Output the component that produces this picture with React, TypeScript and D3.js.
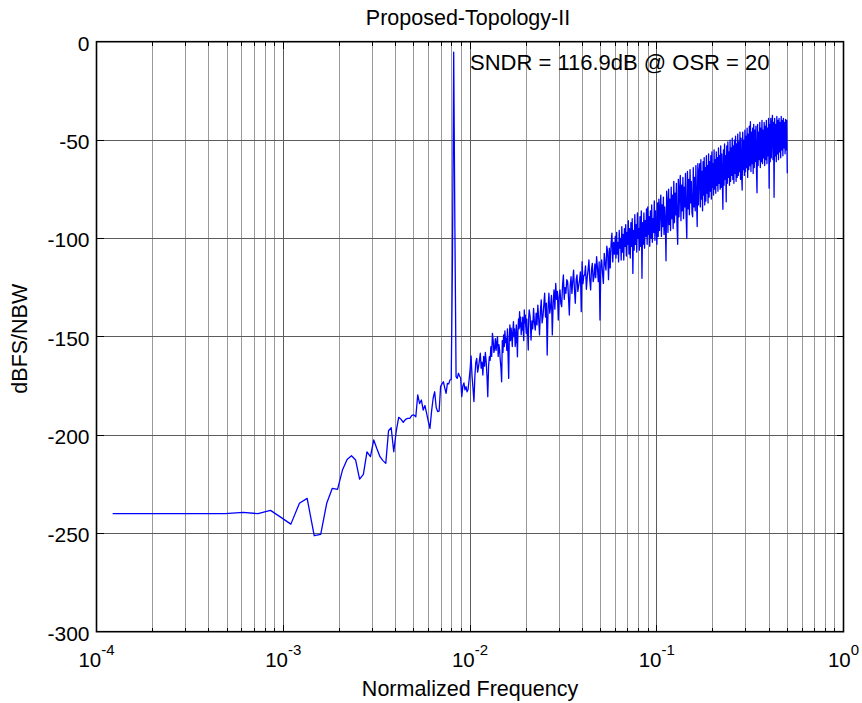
import React from 'react';
import * as d3 from 'd3';

// ---------- data ----------
const FFT_LEN = 8192;
const titleText = 'Proposed-Topology-II';
const xLabelText = 'Normalized Frequency';
const yLabelText = 'dBFS/NBW';
const annotationText = 'SNDR = 116.9dB @ OSR = 20';

const xDecades = [1e-4, 1e-3, 1e-2, 1e-1, 1];
const xDecadeExponents = ['-4', '-3', '-2', '-1', '0'];
const minorMultipliers = [2, 3, 4, 5, 6, 7, 8, 9];
const yTicks = [0, -50, -100, -150, -200, -250, -300];

// FFT bins 1..170 (frequency = bin / FFT_LEN), dBFS/NBW
const lowBandDb = [
  -240, -240, -240, -240, -239.3, -240, -238.3, -242, -245.3, -234.7,
  -232.2, -251.2, -250.5, -234.7, -227.1, -227.6, -217.8, -212.4, -210.5, -212.7,
  -222.4, -220, -208.6, -211, -202.5, -207, -211, -213, -214.4, -197.8,
  -196.3, -208.5, -198, -191, -192, -193.5, -192, -191.5, -191.5, -190,
  -189.8, -190.7, -179.6, -184, -182.2, -187.3, -185, -189, -193, -196.6,
  -188, -181.3, -178, -186, -188.1, -187.8, -175.4, -174, -172.9, -176,
  -178.8, -173.7, -174, -172, -171.7, -110, -5.3, -95, -170.3, -171.2,
  -168.6, -170, -171, -180.5, -175, -173.5, -177, -175.4, -178, -176.8,
  -172, -166.9, -159.8, -170, -176, -183, -170, -163, -161, -168,
  -165.3, -162, -158.4, -166, -163, -169.5, -160, -165, -158, -162.7,
  -170, -180.5, -165, -160.2, -162, -155, -160, -148.3, -152, -158,
  -155.9, -151, -157, -153, -150, -160, -154, -156.8, -162, -166,
  -172.9, -152, -158, -149.1, -155, -147, -153, -150.8, -157, -146,
  -160, -171.2, -150, -144, -152, -145.7, -149, -155, -147, -142.4,
  -150, -146, -155, -152.5, -144, -150, -160.2, -147, -141, -146,
  -137.3, -145, -140, -149, -143, -146.6, -140, -147, -152, -136.4,
  -143, -139, -145, -148.3, -141, -147, -150, -156.8, -140, -136.4,
];

// log-spaced readings 0.021 .. 0.06
const midBandRange = [0.021, 0.06];
const midBandDb = [
  -140, -151.7, -142, -146, -135.6, -143, -146.6, -138, -144, -133.9,
  -141, -149.1, -137, -131.3, -143, -139.8, -134, -127.9, -140, -133,
  -159.3, -136, -127.9, -138, -134.7, -129, -149.1, -133, -126.2, -136,
  -122.9, -131, -127, -141.5, -130, -126.2, -133, -134.7, -124, -118.6,
  -131, -125, -127.9, -121, -122, -130, -139, -124, -119.5, -128,
  -122, -116.1, -126, -133, -121, -118.6, -127, -124, -121.2, -117,
  -137.3, -111.9, -123, -119, -118.6, -114, -125.9, -120, -116, -111,
  -121, -126.2, -116, -112.7, -122, -119.5, -113, -120, -109.3, -115,
  -122, -112, -141.5, -114, -111, -118, -122.9, -107.6, -113, -116.1,
  -104, -106.8, -121, -105, -115, -103, -97.4, -112, -102, -108,
];

// log-spaced readings 0.06 .. 0.17
const highBandARange = [0.06, 0.17];
const highBandADb = [
  -99, -110, -97, -108, -102, -112, -96, -105, -100, -111,
  -94, -107, -98, -111, -95, -104, -93, -109, -97, -103,
  -91, -108, -95, -110, -92, -104, -90, -117.8, -96, -106,
  -88, -103, -93, -107, -87, -100, -95, -106, -89, -104,
  -86, -120.3, -92, -103, -87, -105, -91, -99, -85, -103,
  -84, -98, -89, -104, -86, -100, -83, -102, -90, -97,
  -81, -101, -86, -95, -103, -82, -99, -80, -96, -85,
  -78, -99, -83, -94, -79, -98, -84, -92, -111.4, -76,
  -82, -97, -75, -93, -80, -96, -74, -90, -78, -95,
  -71, -92, -77, -88, -72, -94, -103, -70, -89, -75,
  -68, -91, -73, -86, -69, -90, -74, -84, -67, -89,
  -100, -66, -85, -70, -88, -65, -82, -71, -87, -89,
  -64, -84, -69, -86, -63, -80, -94, -62, -83, -66,
];

// log-spaced readings 0.17 .. 0.5
const highBandBRange = [0.17, 0.5];
const highBandBDb = [
  -62, -84, -60, -80, -66, -86, -61, -78, -59, -83,
  -64, -81, -58, -77, -63, -82, -57, -79, -61, -76,
  -58, -80, -56, -74, -62, -78, -55, -75, -60, -77,
  -56, -73, -59, -76, -54, -72, -58, -75, -53, -74,
  -57, -71, -85.2, -55, -73, -52, -70, -58, -81.4, -53,
  -72, -51, -69, -56, -73, -50, -71, -54, -68, -49,
  -70, -53, -72, -50, -67, -48, -71, -52, -69, -47,
  -68, -51, -66, -46, -70, -49, -67, -75.4, -46, -65,
  -50, -68, -45, -66, -48, -64, -44, -69, -47, -65,
  -43, -63, -40.7, -66, -46, -62, -44, -67, -42, -64,
  -45, -61, -43, -65, -76.8, -42, -63, -46, -60, -41,
  -64, -44, -61, -40, -62, -45, -59, -41, -63, -43,
  -60, -40, -62, -44, -58, -39, -74.5, -42, -61, -39,
  -59, -43, -37.5, -60, -41, -79.1, -39, -58, -42, -61,
  -38, -57, -40, -60, -39, -56, -41, -59, -38, -55,
  -40, -58, -39, -54, -41, -57, -39.5, -55, -40, -66.9,
];

// ---------- helpers ----------
function logSegment(range: number[], values: number[], includeEnd: boolean): [number, number][] {
  const [f0, f1] = range;
  const n = values.length;
  const denom = includeEnd ? n - 1 : n;
  return values.map((v, i) => [f0 * Math.pow(f1 / f0, i / denom), v] as [number, number]);
}

const FONT = "'Liberation Sans', Arial, Helvetica, sans-serif";

export default function App() {
  const W = 862;
  const H = 703;
  const left = 96.5, right = 843.5, top = 41.7, bottom = 631.7;

  const x = d3.scaleLog().domain([1e-4, 1]).range([left, right]);
  const y = d3.scaleLinear().domain([-300, 0]).range([bottom, top]);

  const points: [number, number][] = [
    ...lowBandDb.map((v, i) => [(i + 1) / FFT_LEN, v] as [number, number]),
    ...logSegment(midBandRange, midBandDb, false),
    ...logSegment(highBandARange, highBandADb, false),
    ...logSegment(highBandBRange, highBandBDb, true),
  ];

  const line = d3
    .line<[number, number]>()
    .x((d) => x(d[0]))
    .y((d) => y(d[1]));

  const minorTicks: number[] = [];
  xDecades.slice(0, -1).forEach((d) => minorMultipliers.forEach((m) => minorTicks.push(d * m)));

  return (
    <svg
      width={W}
      height={H}
      style={{ position: 'absolute', left: 0, top: 0, background: '#fff' }}
      fontFamily={FONT}
    >
      <rect x={0} y={0} width={W} height={H} fill="#fff" />
      {/* grid */}
      <g shapeRendering="crispEdges">
        {minorTicks.map((t) => (
          <line key={'mg' + t} x1={x(t)} x2={x(t)} y1={top} y2={bottom} stroke="#999" strokeWidth={1} />
        ))}
        {xDecades.map((t) => (
          <line key={'Mg' + t} x1={x(t)} x2={x(t)} y1={top} y2={bottom} stroke="#5c5c5c" strokeWidth={1} />
        ))}
        {yTicks.map((t) => (
          <line key={'yg' + t} x1={left} x2={right} y1={y(t)} y2={y(t)} stroke="#5c5c5c" strokeWidth={1} />
        ))}
      </g>

      {/* data */}
      <path d={line(points) || ''} fill="none" stroke="#0000ff" strokeWidth={1.3} strokeLinejoin="round" />

      {/* ticks */}
      <g stroke="#000" strokeWidth={1} shapeRendering="crispEdges">
        {minorTicks.map((t) => (
          <g key={'mt' + t}>
            <line x1={x(t)} x2={x(t)} y1={bottom} y2={bottom - 4} />
            <line x1={x(t)} x2={x(t)} y1={top} y2={top + 4} />
          </g>
        ))}
        {xDecades.map((t) => (
          <g key={'Mt' + t}>
            <line x1={x(t)} x2={x(t)} y1={bottom} y2={bottom - 7} />
            <line x1={x(t)} x2={x(t)} y1={top} y2={top + 7} />
          </g>
        ))}
        {yTicks.map((t) => (
          <g key={'yt' + t}>
            <line x1={left} x2={left + 7} y1={y(t)} y2={y(t)} />
            <line x1={right} x2={right - 7} y1={y(t)} y2={y(t)} />
          </g>
        ))}
      </g>

      {/* box */}
      <rect x={left} y={top} width={right - left} height={bottom - top} fill="none" stroke="#000" strokeWidth={1.6} />

      {/* y tick labels */}
      {yTicks.map((t) => (
        <text key={'yl' + t} x={left - 7} y={y(t) + 9} textAnchor="end" fontSize={21} fill="#000">
          {t}
        </text>
      ))}

      {/* x tick labels */}
      {xDecades.map((t, i) => (
        <text key={'xl' + t} x={x(t)} y={bottom + 35.5} textAnchor="middle" fontSize={20.5} fill="#000">
          <tspan>10</tspan>
          <tspan dy={-12} fontSize={15}>{xDecadeExponents[i]}</tspan>
        </text>
      ))}

      {/* title and labels */}
      <text x={(left + right) / 2 - 2} y={25} textAnchor="middle" fontSize={21.5} fill="#000">
        {titleText}
      </text>
      <text x={(left + right) / 2} y={696} textAnchor="middle" fontSize={21.5} fill="#000">
        {xLabelText}
      </text>
      <text
        transform={`translate(26.5, ${(top + bottom) / 2 + 2}) rotate(-90)`}
        textAnchor="middle"
        fontSize={21.5}
        fill="#000"
      >
        {yLabelText}
      </text>

      {/* annotation */}
      <text x={x(0.01)} y={y(-14.3)} fontSize={22} fill="#000">
        {annotationText}
      </text>
    </svg>
  );
}
